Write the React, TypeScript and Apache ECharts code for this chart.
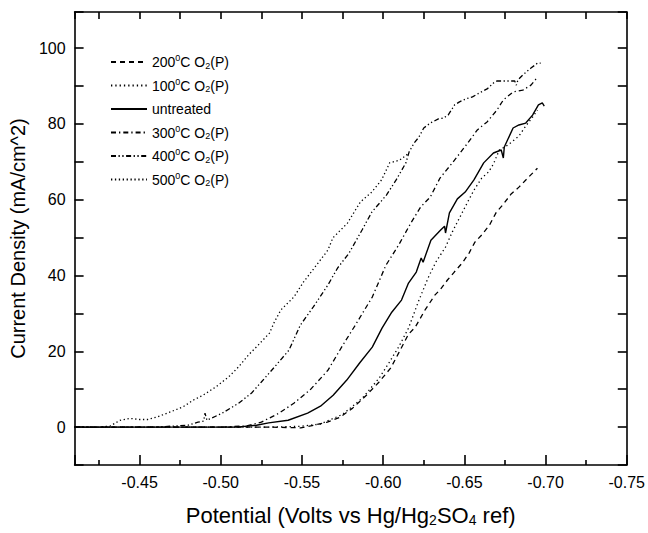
import React, { useEffect, useRef } from "react";
import * as echarts from "echarts";

// Potential (V vs Hg/Hg2SO4) and current density (mA/cm^2) pairs per sample
const s200: [number, number][] = [
  [-0.41, 0], [-0.53, 0], [-0.5493, -0.2], [-0.5572, 0.5], [-0.5656, 1.3], [-0.5734, 2.6],
  [-0.5812, 5.0], [-0.5897, 8.4], [-0.5975, 11.9], [-0.6047, 15.6], [-0.6095, 19.5],
  [-0.6156, 24.5], [-0.6198, 26.4], [-0.6258, 30.9], [-0.6318, 34.8], [-0.6354, 36.4],
  [-0.6396, 38.8], [-0.6438, 40.9], [-0.6487, 43.3], [-0.6529, 45.9], [-0.6565, 48.8],
  [-0.6607, 50.7], [-0.6655, 53.3], [-0.6697, 56.7], [-0.674, 58.8], [-0.6788, 61.5],
  [-0.6836, 63.3], [-0.689, 65.7], [-0.695, 68.3],
];

const s100: [number, number][] = [
  [-0.41, 0], [-0.53, 0], [-0.549, 0.2], [-0.5614, 0.8], [-0.5752, 3.4], [-0.5873, 7.7],
  [-0.5975, 12.9], [-0.6035, 16.9], [-0.6095, 21.1], [-0.6156, 26.1], [-0.6216, 33.0],
  [-0.6276, 39.3], [-0.6324, 43.5], [-0.6384, 47.5], [-0.6426, 51.5], [-0.6469, 55.1],
  [-0.6517, 59.1], [-0.6559, 62.5], [-0.6607, 65.7], [-0.6649, 67.3], [-0.6679, 69.4],
  [-0.6715, 73.1], [-0.6758, 74.1], [-0.68, 75.5], [-0.6836, 76.8], [-0.6878, 79.4],
  [-0.692, 81.8], [-0.695, 83.6],
];

const sUntreated: [number, number][] = [
  [-0.41, 0], [-0.51, 0], [-0.522, 0.5], [-0.5295, 1.1], [-0.5415, 1.8], [-0.5535, 3.7],
  [-0.5614, 5.5], [-0.5692, 8.4], [-0.5776, 12.4], [-0.5855, 16.9], [-0.5933, 21.1],
  [-0.5993, 26.1], [-0.6053, 30.3], [-0.6113, 33.5], [-0.6156, 38.0], [-0.6204, 40.9],
  [-0.6234, 44.6], [-0.6246, 43.5], [-0.6294, 49.3], [-0.6354, 52.0], [-0.6378, 53.0],
  [-0.6384, 51.2], [-0.6408, 56.5], [-0.6457, 60.2], [-0.6505, 62.0], [-0.6559, 65.2],
  [-0.6619, 69.7], [-0.6679, 72.3], [-0.6727, 73.1], [-0.674, 71.0], [-0.6746, 73.9],
  [-0.68, 78.9], [-0.6836, 79.7], [-0.6878, 80.2], [-0.692, 82.3], [-0.6956, 85.0],
  [-0.698, 85.5], [-0.6992, 84.7],
];

const s300: [number, number][] = [
  [-0.41, 0], [-0.5, 0], [-0.516, 0.3], [-0.525, 1.3], [-0.536, 3.7], [-0.545, 6.3],
  [-0.555, 9.8], [-0.566, 15.0], [-0.575, 21.5], [-0.583, 27.0], [-0.5933, 34.3],
  [-0.6017, 42.7], [-0.6095, 48.0], [-0.617, 53.8], [-0.623, 58.0], [-0.629, 60.7],
  [-0.635, 65.7], [-0.643, 69.9], [-0.652, 74.9], [-0.658, 78.4], [-0.664, 80.5],
  [-0.67, 83.6], [-0.674, 86.3], [-0.68, 88.4], [-0.686, 88.9], [-0.691, 90.2],
  [-0.695, 92.3],
];

const s400: [number, number][] = [
  [-0.41, 0], [-0.46, 0], [-0.48, 0.5], [-0.486, 1.3], [-0.4895, 1.6], [-0.4903, 3.7],
  [-0.4915, 1.8], [-0.501, 3.7], [-0.511, 6.3], [-0.519, 9.0], [-0.525, 11.9],
  [-0.533, 15.8], [-0.542, 20.3], [-0.549, 26.9], [-0.557, 31.7], [-0.566, 37.5],
  [-0.572, 42.0], [-0.579, 45.9], [-0.587, 52.0], [-0.593, 56.7], [-0.602, 61.2],
  [-0.608, 65.2], [-0.614, 69.7], [-0.616, 72.6], [-0.619, 74.9], [-0.622, 76.5],
  [-0.625, 78.9], [-0.629, 80.2], [-0.634, 81.3], [-0.637, 81.5], [-0.64, 82.3],
  [-0.644, 85.0], [-0.647, 85.8], [-0.651, 86.6], [-0.655, 87.1], [-0.659, 88.1],
  [-0.664, 89.2], [-0.668, 90.8], [-0.67, 91.3], [-0.674, 91.3], [-0.681, 91.3],
  [-0.682, 90.2], [-0.683, 91.6], [-0.686, 92.9], [-0.691, 94.7], [-0.695, 96.0],
  [-0.697, 96.0],
];

const s500: [number, number][] = [
  [-0.41, 0], [-0.425, 0], [-0.432, 0.3], [-0.438, 1.8], [-0.444, 2.3], [-0.45, 2.0],
  [-0.455, 2.0], [-0.461, 2.7], [-0.469, 4.0], [-0.477, 5.4], [-0.483, 7.1],
  [-0.489, 8.4], [-0.497, 10.6], [-0.505, 13.3], [-0.511, 15.9], [-0.517, 19.0],
  [-0.523, 21.6], [-0.53, 24.8], [-0.533, 27.7], [-0.537, 30.9], [-0.545, 34.3],
  [-0.551, 38.3], [-0.558, 42.2], [-0.566, 46.7], [-0.569, 49.9], [-0.578, 53.8],
  [-0.586, 59.4], [-0.593, 62.0], [-0.599, 65.2], [-0.604, 69.7], [-0.61, 70.4],
  [-0.616, 72.3],
];

const seriesNames = ["200°C O2(P)", "100°C O2(P)", "untreated", "300°C O2(P)", "400°C O2(P)", "500°C O2(P)"];
const legendLabels = [
  "200{sup|0}C O{sub|2}(P)",
  "100{sup|0}C O{sub|2}(P)",
  "untreated",
  "300{sup|0}C O{sub|2}(P)",
  "400{sup|0}C O{sub|2}(P)",
  "500{sup|0}C O{sub|2}(P)",
];
const seriesData = [s200, s100, sUntreated, s300, s400, s500];
const dashes: (number[] | "solid")[] = [
  [5, 4],
  [1.3, 3],
  "solid",
  [5, 3, 1.3, 3],
  [5, 2.5, 1.3, 2.5, 1.3, 2.5],
  [1.3, 2.6],
];

const xMin = -0.75;
const xMax = -0.41;
const yMin = -10;
const yMax = 109.5;
const yLabelValues = [0, 20, 40, 60, 80, 100];

const FONT = "'Liberation Sans', Arial, sans-serif";

export default function App() {
  const ref = useRef<HTMLDivElement>(null);
  useEffect(() => {
    document.body.style.margin = "0";
    if (!ref.current) return;
    const chart = echarts.init(ref.current, undefined, { renderer: "svg" });
    const line = { color: "#000", width: 1.6 };
    const xLabelFmt = (v: number) => {
      const k = Math.round(v / 0.05);
      return Math.abs(v - k * 0.05) < 1e-6 ? v.toFixed(2) : "";
    };
    const yLabelFmt = (v: number) => {
      const r = Math.round(v);
      return Math.abs(v - r) < 1e-6 && yLabelValues.includes(r) ? String(r) : "";
    };
    chart.setOption({
      animation: false,
      backgroundColor: "#fff",
      textStyle: { fontFamily: FONT },
      grid: { left: 68, right: 16, top: 12, bottom: 68, containLabel: false },
      legend: {
        orient: "vertical",
        left: 110,
        top: 53,
        padding: 0,
        itemWidth: 36,
        itemHeight: 12,
        itemGap: 5.5,
        data: seriesNames,
        itemStyle: { opacity: 0, borderWidth: 0, color: "rgba(0,0,0,0)", borderColor: "rgba(0,0,0,0)" },
        formatter: (name: string) => legendLabels[seriesNames.indexOf(name)],
        textStyle: {
          fontFamily: FONT,
          fontSize: 14,
          color: "#000",
          lineHeight: 18,
          rich: {
            sup: { fontSize: 9, padding: [0, 0, 8, 0], lineHeight: 18, fontFamily: FONT, color: "#000" },
            sub: { fontSize: 9, padding: [7, 0, 0, 0], lineHeight: 18, fontFamily: FONT, color: "#000" },
          },
        },
      },
      xAxis: [
        {
          type: "value",
          min: xMin,
          max: xMax,
          inverse: true,
          interval: 0.05,
          position: "bottom",
          axisLine: { show: true, onZero: false, lineStyle: line },
          axisTick: { show: true, inside: true, length: 10, lineStyle: line },
          minorTick: { show: true, splitNumber: 2, length: 5, lineStyle: line },
          axisLabel: { formatter: xLabelFmt, fontSize: 16, color: "#000", margin: 9, fontFamily: FONT },
          splitLine: { show: false },
          name: "Potential (Volts vs Hg/Hg{sub|2}SO{sub|4} ref)",
          nameLocation: "middle",
          nameGap: 37,
          nameTextStyle: {
            fontSize: 22,
            color: "#000",
            fontFamily: FONT,
            lineHeight: 26,
            rich: {
              sub: { fontSize: 14, padding: [9, 0, 0, 0], lineHeight: 26, fontFamily: FONT, color: "#000" },
            },
          },
        },
        {
          type: "value",
          min: xMin,
          max: xMax,
          inverse: true,
          interval: 0.025,
          position: "top",
          axisLine: { show: true, onZero: false, lineStyle: line },
          axisTick: { show: true, inside: true, length: 7, lineStyle: line },
          axisLabel: { show: false },
          splitLine: { show: false },
        },
      ],
      yAxis: [
        {
          type: "value",
          min: yMin,
          max: yMax,
          interval: 10,
          position: "left",
          axisLine: { show: true, onZero: false, lineStyle: line },
          axisTick: { show: true, inside: true, length: 9, lineStyle: line },
          axisLabel: { formatter: yLabelFmt, fontSize: 16, color: "#000", margin: 9, fontFamily: FONT },
          splitLine: { show: false },
          name: "Current Density (mA/cm^2)",
          nameLocation: "middle",
          nameGap: 40,
          nameTextStyle: { fontSize: 20, color: "#000", fontFamily: FONT },
        },
        {
          type: "value",
          min: yMin,
          max: yMax,
          interval: 10,
          position: "right",
          axisLine: { show: true, onZero: false, lineStyle: line },
          axisTick: { show: true, inside: true, length: 9, lineStyle: line },
          axisLabel: { show: false },
          splitLine: { show: false },
        },
      ],
      series: seriesNames.map((name, i) => ({
        name,
        type: "line",
        xAxisIndex: 0,
        yAxisIndex: 0,
        symbol: "none",
        showSymbol: false,
        data: seriesData[i],
        lineStyle: { color: "#000", width: i === 2 ? 1.4 : 1.3, type: dashes[i] },
        itemStyle: { color: "#000" },
        emphasis: { disabled: true },
      })),
    });
    return () => chart.dispose();
  }, []);
  return (
    <div
      ref={ref}
      style={{ position: "absolute", left: 0, top: 0, width: 648, height: 533, background: "#fff" }}
    />
  );
}
